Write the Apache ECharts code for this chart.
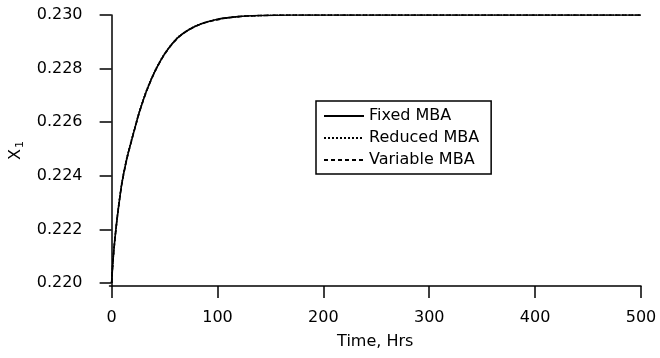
<!DOCTYPE html>
<html>
<head>
<meta charset="utf-8">
<script src="https://cdn.jsdelivr.net/npm/echarts@6/dist/echarts.min.js"></script>
<style>html,body{margin:0;padding:0;background:#fff}#c{width:660px;height:358px}</style>
</head>
<body>
<div id="c"></div>
<script>
const timeHrs = [0, 1.6, 4, 6.6, 9.7, 14.1, 18.1, 22.8, 26, 29.1, 33.8, 41.6, 51, 63.6, 79.2, 98, 116.8, 140, 170, 200, 300, 400, 500];
const fixedMBA = [0.2200, 0.22098, 0.22198, 0.22285, 0.22372, 0.22459, 0.22521, 0.22590, 0.22635, 0.22673, 0.22725, 0.22795, 0.22860, 0.22919, 0.22958, 0.22982, 0.22993, 0.22998, 0.23000, 0.23000, 0.23000, 0.23000, 0.23000];
const reducedMBA = [0.2200, 0.22100, 0.22200, 0.22288, 0.22375, 0.22462, 0.22524, 0.22592, 0.22637, 0.22675, 0.22727, 0.22797, 0.22861, 0.22920, 0.22959, 0.22982, 0.22993, 0.22998, 0.23000, 0.23000, 0.23000, 0.23000, 0.23000];
const variableMBA = [0.2200, 0.22097, 0.22197, 0.22284, 0.22371, 0.22458, 0.22520, 0.22589, 0.22634, 0.22672, 0.22724, 0.22794, 0.22859, 0.22918, 0.22958, 0.22981, 0.22993, 0.22998, 0.23000, 0.23000, 0.23000, 0.23000, 0.23000];
const xTicks = [0, 100, 200, 300, 400, 500];
const yTicks = [0.220, 0.222, 0.224, 0.226, 0.228, 0.230];

const FONT = 'DejaVu Sans, Liberation Sans, Arial, sans-serif';
const pairs = (xs, ys) => xs.map((x, i) => [x, ys[i]]);
const chart = echarts.init(document.getElementById('c'), null, {renderer: 'canvas'});
const mkSeries = (name, data, type) => ({
  name, type: 'line', data: pairs(timeHrs, data),
  showSymbol: false, symbol: 'none', smooth: 0.3,
  lineStyle: {color: '#000', width: 1.6, type},
  itemStyle: {color: '#000'}
});
chart.setOption({
  animation: false,
  backgroundColor: '#fff',
  grid: {left: 107, right: 19, top: 15, bottom: 72, containLabel: false},
  xAxis: {
    type: 'value', min: -2, max: 500,
    name: 'Time, Hrs', nameLocation: 'middle', nameGap: 48,
    nameTextStyle: {fontFamily: FONT, fontSize: 16, color: '#000'},
    axisLine: {show: true, lineStyle: {color: '#000', width: 1.5}},
    axisTick: {show: true, length: 12, customValues: xTicks, lineStyle: {color: '#000', width: 1.5}},
    axisLabel: {customValues: xTicks, margin: 24, fontFamily: FONT, fontSize: 16, color: '#000'},
    splitLine: {show: false}
  },
  yAxis: {
    type: 'value', min: 0.220 - 3 / 26800, max: 0.230,
    name: '{x|X}{s|1}', nameLocation: 'middle', nameGap: 84, nameRotate: 90,
    nameTextStyle: {
      fontFamily: FONT, fontSize: 16, color: '#000',
      rich: {
        x: {fontFamily: FONT, fontSize: 16, color: '#000'},
        s: {fontFamily: FONT, fontSize: 11, color: '#000', padding: [8, 0, 0, 1]}
      }
    },
    axisLine: {show: true, lineStyle: {color: '#000', width: 1.5}},
    axisTick: {show: true, length: 12, customValues: yTicks, lineStyle: {color: '#000', width: 1.5}},
    axisLabel: {customValues: yTicks, margin: 27, fontFamily: FONT, fontSize: 16, color: '#000',
      formatter: v => v.toFixed(3)},
    splitLine: {show: false}
  },
  legend: {
    orient: 'vertical', left: 316, top: 101,
    padding: [7, 12, 6, 7], itemGap: 6, itemWidth: 40, itemHeight: 14,
    borderColor: '#000', borderWidth: 1.5, backgroundColor: '#fff',
    itemStyle: {opacity: 0},
    textStyle: {fontFamily: FONT, fontSize: 16, color: '#000'},
    data: ['Fixed MBA', 'Reduced MBA', 'Variable MBA']
  },
  series: [
    mkSeries('Fixed MBA', fixedMBA, 'solid'),
    mkSeries('Reduced MBA', reducedMBA, 'dotted'),
    mkSeries('Variable MBA', variableMBA, [4, 3])
  ]
});
</script>
</body>
</html>
